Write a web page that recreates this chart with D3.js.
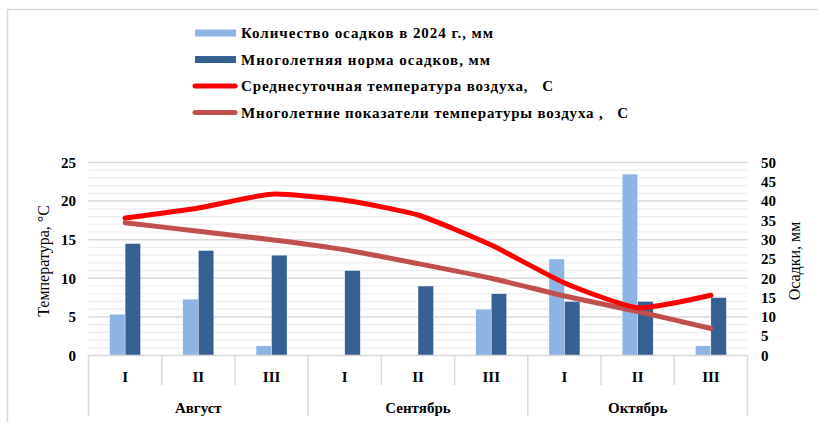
<!DOCTYPE html>
<html><head><meta charset="utf-8">
<script src="https://cdn.jsdelivr.net/npm/d3@7"></script>
<style>body{margin:0;background:#fff}svg{display:block}</style>
</head><body>
<svg id="c" width="818" height="422"></svg>
<script>
const decades = ["I","II","III","I","II","III","I","II","III"];
const months = ["Август","Сентябрь","Октябрь"];
const precip2024 = [10.7, 14.6, 2.5, 0, 0, 12, 25, 47, 2.5];
const precipNorm = [29, 27.2, 26, 22, 18, 16, 14, 14, 15];
const tempMean = [17.8, 19.1, 20.9, 20.1, 18.2, 14.3, 9.4, 6.2, 7.8];
const tempNorm = [17.2, 16.1, 15.0, 13.7, 11.9, 10.0, 7.7, 5.7, 3.5];
const tempTicks = [0,5,10,15,20,25];
const precipTicks = [0,5,10,15,20,25,30,35,40,45,50];
const seriesNames = ["Количество осадков в 2024 г., мм","Многолетняя норма осадков, мм","Среднесуточная температура воздуха,   С","Многолетние показатели температуры воздуха ,   С"];
const colors = ["#8EB4E3","#376092","#FF0000","#C0504D"];

const svg = d3.select("#c");
const font = "'Liberation Serif','Times New Roman',serif";
const L = 88.5, R = 747.5, T = 162.5, B = 355.5;

svg.append("rect").attr("x",7.5).attr("y",9.5).attr("width",830).attr("height",430)
  .attr("fill","none").attr("stroke","#D9D9D9").attr("stroke-width",1.5);

const idx = d3.range(decades.length);
const x = d3.scaleBand().domain(idx).range([L,R]).padding(0);
const yT = d3.scaleLinear().domain([0,25]).range([B,T]);
const yP = d3.scaleLinear().domain([0,50]).range([B,T]);
const bw = 15.5;
const x1 = d3.scaleBand().domain([0,1]).range([x.bandwidth()/2-bw, x.bandwidth()/2+bw]);

// minor grid
const g = svg.append("g");
g.selectAll("line.minor").data(d3.range(1,25).filter(v=>v%5)).join("line")
  .attr("x1",L).attr("x2",R).attr("y1",d=>yT(d)).attr("y2",d=>yT(d))
  .attr("stroke","#EDEDED").attr("stroke-width",1.2);
g.selectAll("line.major").data(tempTicks.slice(1)).join("line")
  .attr("x1",L).attr("x2",R).attr("y1",d=>yT(d)).attr("y2",d=>yT(d))
  .attr("stroke","#D9D9D9").attr("stroke-width",1.5);

// bars
const barData = [];
idx.forEach(i=>{ barData.push({i,s:0,v:precip2024[i]}); barData.push({i,s:1,v:precipNorm[i]}); });
svg.append("g").selectAll("rect").data(barData.filter(d=>d.v>0)).join("rect")
  .attr("x",d=>x(d.i)+x1(d.s)).attr("width",x1.bandwidth())
  .attr("y",d=>yP(d.v)).attr("height",d=>B-yP(d.v))
  .attr("fill",d=>colors[d.s]).attr("stroke","#fff").attr("stroke-width",0.4);

// category axis
const ax = svg.append("g").attr("stroke","#D9D9D9").attr("stroke-width",1.5);
ax.append("line").attr("x1",L).attr("x2",R).attr("y1",B).attr("y2",B);
d3.range(decades.length+1).forEach(k=>{
  const xx = k<decades.length ? x(k) : R;
  const isMonth = k%3===0;
  ax.append("line").attr("x1",xx).attr("x2",xx).attr("y1",B).attr("y2",isMonth?416:385);
});
svg.append("g").selectAll("text").data(idx).join("text")
  .attr("x",i=>x(i)+x.bandwidth()/2).attr("y",377).attr("dy","0.35em")
  .attr("text-anchor","middle").attr("font-family",font).attr("font-weight","bold")
  .attr("font-size",15).text(i=>decades[i]);
svg.append("g").selectAll("text").data(months).join("text")
  .attr("x",(d,m)=>x(m*3)+x.bandwidth()*1.5).attr("y",408).attr("dy","0.35em")
  .attr("text-anchor","middle").attr("font-family",font).attr("font-weight","bold")
  .attr("font-size",15).text(d=>d);

// lines
const curve = d3.curveCardinal.tension(0.45);
const line = arr => d3.line().x((d,i)=>x(i)+x.bandwidth()/2).y(d=>yT(d)).curve(curve)(arr);
svg.append("path").attr("d",line(tempNorm)).attr("fill","none").attr("stroke",colors[3])
  .attr("stroke-width",5).attr("stroke-linecap","round").attr("stroke-linejoin","round");
svg.append("path").attr("d",line(tempMean)).attr("fill","none").attr("stroke",colors[2])
  .attr("stroke-width",5).attr("stroke-linecap","round").attr("stroke-linejoin","round");

// axes labels
svg.append("g").selectAll("text").data(tempTicks).join("text")
  .attr("x",76).attr("y",d=>yT(d)).attr("dy","0.35em").attr("text-anchor","end")
  .attr("font-family",font).attr("font-weight","bold").attr("font-size",15).text(d=>d);
svg.append("g").selectAll("text").data(precipTicks).join("text")
  .attr("x",761).attr("y",d=>yP(d)).attr("dy","0.35em").attr("text-anchor","start")
  .attr("font-family",font).attr("font-weight","bold").attr("font-size",15).text(d=>d);
svg.append("text").attr("transform","translate(43,261) rotate(-90)").attr("dy","0.35em")
  .attr("text-anchor","middle").attr("font-family",font).attr("font-size",16).text("Температура, °С");
svg.append("text").attr("transform","translate(794,261) rotate(-90)").attr("dy","0.35em")
  .attr("text-anchor","middle").attr("font-family",font).attr("font-size",16).text("Осадки, мм");

// legend
const legY = [33, 59.5, 86, 112.5];
const legW = [252, 249, 312, 387];
const lg = svg.append("g");
seriesNames.forEach((n,k)=>{
  if(k<2){
    lg.append("rect").attr("x",195).attr("y",legY[k]-3.5).attr("width",41).attr("height",7).attr("fill",colors[k]);
  } else {
    lg.append("line").attr("x1",195).attr("x2",235).attr("y1",legY[k]).attr("y2",legY[k])
      .attr("stroke",colors[k]).attr("stroke-width",5).attr("stroke-linecap","round");
  }
  lg.append("text").attr("x",241).attr("y",legY[k]).attr("dy","0.35em")
    .attr("font-family",font).attr("font-weight","bold").attr("font-size",15)
    .attr("textLength",legW[k]).attr("lengthAdjust","spacing").attr("xml:space","preserve")
    .style("white-space","pre").text(n);
});
</script>
</body></html>
